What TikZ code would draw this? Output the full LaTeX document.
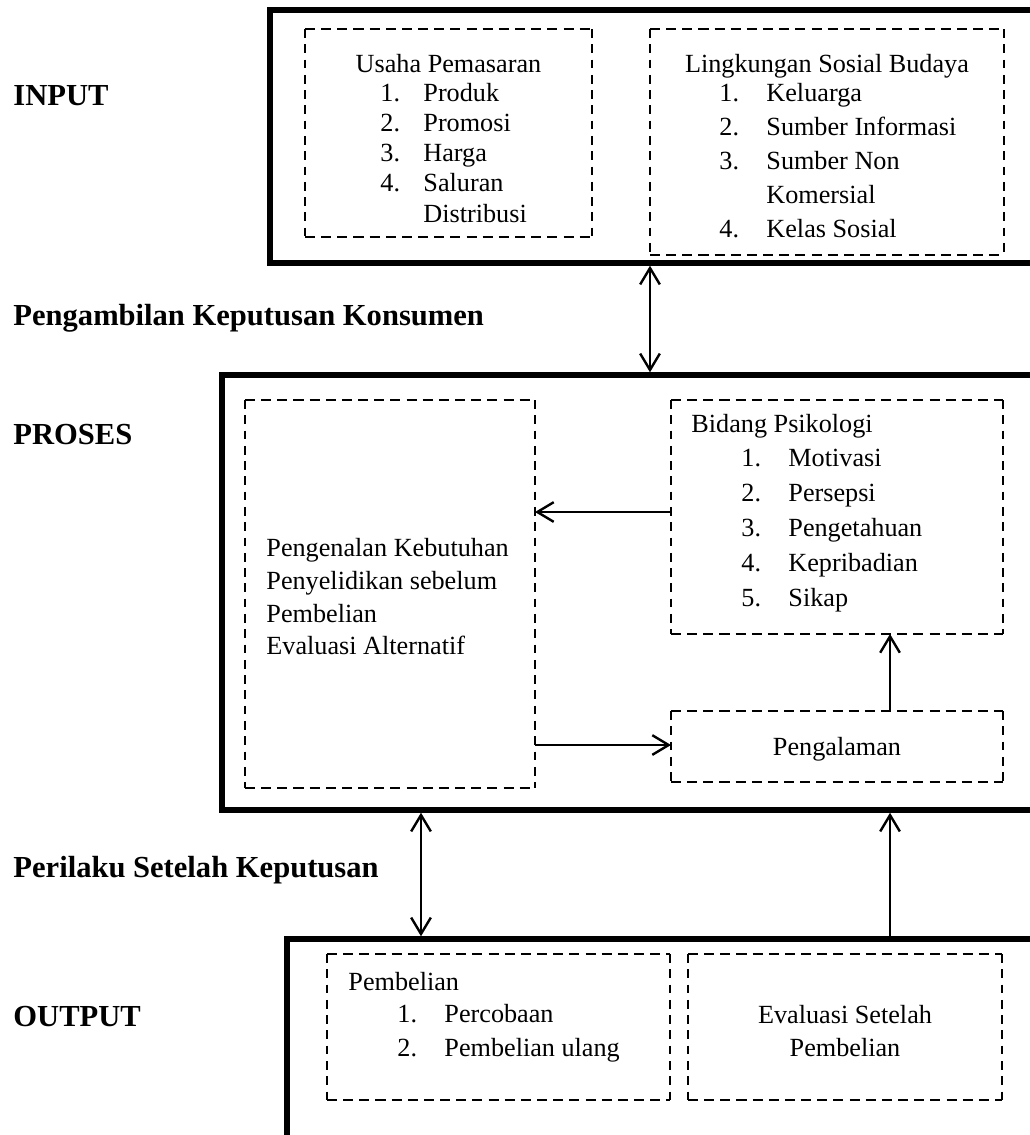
\documentclass[tikz,border=0pt]{standalone}
\usepackage{fontspec}
\setmainfont{Liberation Serif}
\usetikzlibrary{fit,arrows.meta}
\begin{document}
\begin{tikzpicture}[x=0.458pt,y=-0.458pt,
  obox/.style={draw, line width=2.5pt, inner sep=0pt},
  dbox/.style={inner sep=0pt, outer sep=0pt},
  hd/.style={line width=1.3pt, dash pattern=on 4.6pt off 2.8pt},
  vd/.style={line width=1.35pt, dash pattern=on 4pt off 3pt},
  arr/.style={line width=1.1pt, -{Straight Barb[length=7.5pt,width=9pt]}},
  darr/.style={line width=1.1pt, {Straight Barb[length=7.5pt,width=9pt]}-{Straight Barb[length=7.5pt,width=9pt]}},
  lbl/.style={font=\fontsize{14}{16}\selectfont\bfseries, anchor=base west, inner sep=0pt},
  txt/.style={font=\fontsize{12}{14}\selectfont, anchor=base west, inner sep=0pt},
  ctxt/.style={txt, anchor=base}]
\clip (0,0) rectangle (1030,1135);
% left labels
\node[lbl] (linput) at (13,105) {INPUT};
\node[lbl] (lpk) at (13,325) {Pengambilan Keputusan Konsumen};
\node[lbl] (lproses) at (13,444) {PROSES};
\node[lbl] (lpsk) at (13,877) {Perilaku Setelah Keputusan};
\node[lbl] (loutput) at (13,1026) {OUTPUT};
% outer boxes
\node[obox, fit={(270,10) (1050,263)}] (input) {};
\node[obox, fit={(222,375) (1050,810)}] (proses) {};
\node[obox, fit={(287,939) (1050,1160)}] (output) {};
% dashed boxes
\node[dbox, fit={(305,29) (592,237)}] (usaha) {};
\node[dbox, fit={(650,29) (1004,255)}] (lingk) {};
\node[dbox, fit={(245,400) (535,788)}] (kiri) {};
\node[dbox, fit={(671,400) (1003,634)}] (psi) {};
\node[dbox, fit={(671,711) (1003,782)}] (alam) {};
\node[dbox, fit={(327,954) (670,1100)}] (beli) {};
\node[dbox, fit={(688,954) (1002,1100)}] (eval) {};
\foreach \b in {usaha,lingk,kiri,psi,alam,beli,eval}{
  \draw[hd] (\b.north west) -- (\b.north east) (\b.south west) -- (\b.south east);
  \draw[vd] (\b.north west) -- (\b.south west) (\b.north east) -- (\b.south east);
}
% INPUT texts
\node[ctxt] (ut) at (448.5,72) {Usaha Pemasaran};
\node[txt] (u1n) at (380,101) {1.};  \node[txt] (u1) at (423,101) {Produk};
\node[txt] (u2n) at (380,131) {2.};  \node[txt] (u2) at (423,131) {Promosi};
\node[txt] (u3n) at (380,161) {3.};  \node[txt] (u3) at (423,161) {Harga};
\node[txt] (u4n) at (380,191) {4.};  \node[txt] (u4) at (423,191) {Saluran};
\node[txt] (u4b) at (423,222) {Distribusi};
\node[ctxt] (lt) at (827,72) {Lingkungan Sosial Budaya};
\node[txt] (l1n) at (719,101) {1.};  \node[txt] (l1) at (766,101) {Keluarga};
\node[txt] (l2n) at (719,135) {2.};  \node[txt] (l2) at (766,135) {Sumber Informasi};
\node[txt] (l3n) at (719,169) {3.};  \node[txt] (l3) at (766,169) {Sumber Non};
\node[txt] (l3b) at (766,203) {Komersial};
\node[txt] (l4n) at (719,237) {4.};  \node[txt] (l4) at (766,237) {Kelas Sosial};
% PROSES texts
\node[txt] (k1) at (266,556) {Pengenalan Kebutuhan};
\node[txt] (k2) at (266,589) {Penyelidikan sebelum};
\node[txt] (k3) at (266,622) {Pembelian};
\node[txt] (k4) at (266,654) {Evaluasi Alternatif};
\node[txt] (pt) at (691,432) {Bidang Psikologi};
\node[txt] (p1n) at (741,466) {1.}; \node[txt] (p1) at (788,466) {Motivasi};
\node[txt] (p2n) at (741,501) {2.}; \node[txt] (p2) at (788,501) {Persepsi};
\node[txt] (p3n) at (741,536) {3.}; \node[txt] (p3) at (788,536) {Pengetahuan};
\node[txt] (p4n) at (741,571) {4.}; \node[txt] (p4) at (788,571) {Kepribadian};
\node[txt] (p5n) at (741,606) {5.}; \node[txt] (p5) at (788,606) {Sikap};
\node[ctxt] (at) at (837,755) {Pengalaman};
% OUTPUT texts
\node[txt] (bt) at (348,990) {Pembelian};
\node[txt] (b1n) at (397,1022) {1.}; \node[txt] (b1) at (444,1022) {Percobaan};
\node[txt] (b2n) at (397,1056) {2.}; \node[txt] (b2) at (444,1056) {Pembelian ulang};
\node[ctxt] (e1) at (845,1023) {Evaluasi Setelah};
\node[ctxt] (e2) at (845,1056) {Pembelian};
% connectors
\coordinate (ya) at (0,512);
\coordinate (yb) at (0,745);
\coordinate (xa) at (890,0);
\coordinate (xb) at (421,0);
\draw[darr] (input.south -| lingk.west) -- (proses.north -| lingk.west);
\draw[arr] (psi.west |- ya) -- (kiri.east |- ya);
\draw[arr] (kiri.east |- yb) -- (alam.west |- yb);
\draw[arr] (alam.north -| xa) -- (psi.south -| xa);
\draw[darr] (proses.south -| xb) -- (output.north -| xb);
\draw[arr] (output.north -| xa) -- (proses.south -| xa);
\end{tikzpicture}
\end{document}
